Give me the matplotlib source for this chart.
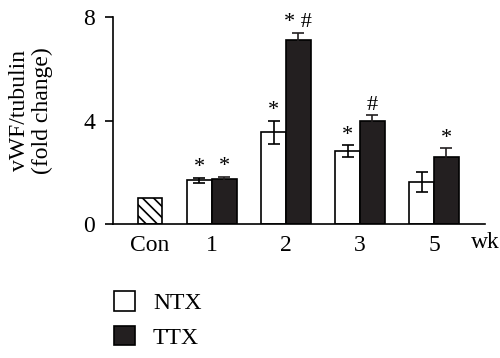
import numpy as np
import matplotlib.pyplot as plt
from matplotlib.patches import Patch

plt.rcParams['font.family'] = ['Liberation Serif', 'DejaVu Serif']
plt.rcParams['hatch.linewidth'] = 1.2

# ------------------------------------------------------------------
# Values
# ------------------------------------------------------------------
weeks = ['1', '2', '3', '5']
con_value = 1.0
ntx_mean = [1.70, 3.55, 2.82, 1.62]
ntx_err = [0.10, 0.45, 0.23, 0.38]
ttx_mean = [1.74, 7.10, 3.98, 2.59]
ttx_err = [0.08, 0.30, 0.22, 0.34]
ntx_marks = ['*', '*', '*', '']
ttx_marks = ['*', '* #', '#', '*']

FS = 17

fig = plt.figure(figsize=(5, 3.58), dpi=100)
ax = fig.add_axes([0.226, 0.374, 0.744, 0.5785])

w = 1.0
centers = 2.5 + 3 * np.arange(len(weeks))

ax.bar(0, con_value, width=w, color='white', edgecolor='black',
       linewidth=1.2, hatch='\\\\\\')
ax.bar(centers - w / 2, ntx_mean, width=w, color='white', edgecolor='black',
       linewidth=1.2, yerr=ntx_err, capsize=4.5,
       error_kw=dict(elinewidth=1.2, capthick=1.2, ecolor='black'))
ax.bar(centers + w / 2, ttx_mean, width=w, color='#231f20', edgecolor='black',
       linewidth=1.2, yerr=ttx_err, capsize=4.5,
       error_kw=dict(elinewidth=1.2, capthick=1.2, ecolor='#231f20'))

# significance marks
for i in range(len(weeks)):
    if ntx_marks[i]:
        ax.text(centers[i] - w / 2, ntx_mean[i] + ntx_err[i] + 0.02, ntx_marks[i],
                ha='center', va='bottom', fontsize=16)
    if ttx_marks[i]:
        ax.text(centers[i] + w / 2, ttx_mean[i] + ttx_err[i] + 0.02, ttx_marks[i],
                ha='center', va='bottom', fontsize=16)

ax.set_xlim(-1.5, 13.56)
ax.set_ylim(0, 8)
ax.set_yticks([0, 4, 8])
ax.set_xticks([0] + list(centers))
ax.set_xticklabels(['Con'] + weeks)
ax.tick_params(axis='x', length=0, pad=8, labelsize=FS)
ax.tick_params(axis='y', length=6, width=1.2, labelsize=FS, pad=7)
ax.text(13.0, -0.93, 'wk', ha='left', va='baseline', fontsize=FS)

for s in ['top', 'right']:
    ax.spines[s].set_visible(False)
ax.spines['left'].set_linewidth(1.2)
ax.spines['bottom'].set_linewidth(1.2)

fig.text(0.062, 0.69, 'vWF/tubulin\n(fold change)', fontsize=FS,
         rotation=90, ha='center', va='center', multialignment='center',
         linespacing=1.15)

handles = [Patch(facecolor='white', edgecolor='black', linewidth=1.2),
           Patch(facecolor='#231f20', edgecolor='black', linewidth=1.2)]
fig.legend(handles, ['NTX', 'TTX'], loc='upper left',
           bbox_to_anchor=(0.228, 0.187), frameon=False, fontsize=FS,
           handlelength=0.9, handleheight=0.9, handletextpad=0.75,
           labelspacing=0.5, borderaxespad=0, borderpad=0)

fig.savefig('out.png', dpi=100)
